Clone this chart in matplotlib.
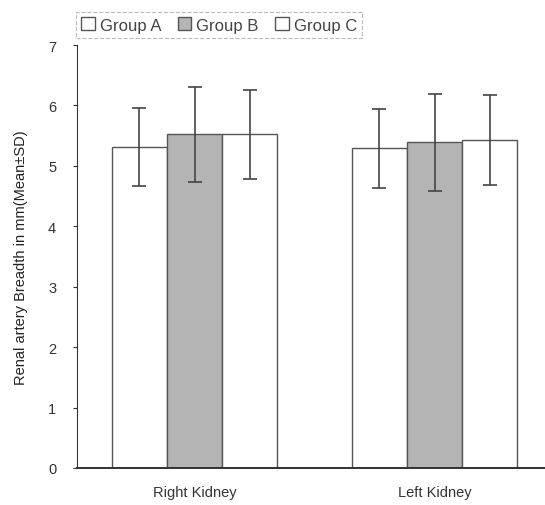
import matplotlib
matplotlib.use("Agg")
import matplotlib.pyplot as plt
import numpy as np

plt.rcParams["font.family"] = ["Liberation Sans", "DejaVu Sans"]

categories = ["Right Kidney", "Left Kidney"]
groups = ["Group A", "Group B", "Group C"]
means = {
    "Group A": [5.31, 5.29],
    "Group B": [5.52, 5.39],
    "Group C": [5.52, 5.43],
}
sds = {
    "Group A": [0.65, 0.65],
    "Group B": [0.79, 0.80],
    "Group C": [0.73, 0.74],
}
colors = {"Group A": "#ffffff", "Group B": "#b4b4b4", "Group C": "#ffffff"}

fig = plt.figure(figsize=(5.45, 5.06), dpi=100)
ax = fig.add_axes([77 / 545, 1 - 469 / 506, 1 - 77 / 545, (469 - 46) / 506])

x = np.arange(len(categories))
width = 0.23
for i, g in enumerate(groups):
    pos = x + (i - 1) * width
    ax.bar(pos, means[g], width, color=colors[g], edgecolor="#555555",
           linewidth=1.0, label=g, zorder=2)
    ax.errorbar(pos, means[g], yerr=sds[g], fmt="none", ecolor="#444444",
                elinewidth=1.2, capsize=5, capthick=1.2, zorder=3)

ax.set_xlim(-0.49, 1.46)
ax.set_ylim(0, 7)
ax.set_yticks(range(0, 8))
ax.set_xticks(x)
ax.set_xticklabels(categories, fontsize=10.5)
ax.tick_params(axis="x", length=0, pad=12, colors="#333333")
ax.tick_params(axis="y", length=3, pad=12, labelsize=10.5, colors="#333333")
ax.spines["top"].set_visible(False)
ax.spines["right"].set_visible(False)
ax.spines["left"].set_color("#333333")
ax.spines["bottom"].set_color("#333333")
ax.spines["bottom"].set_linewidth(1.4)
ax.set_ylabel("Renal artery Breadth in mm(Mean±SD)", fontsize=10.5, color="#222222", labelpad=14)

leg = fig.legend(loc="upper left", bbox_to_anchor=(68 / 545, 1 - 5 / 506), ncol=3,
                 fontsize=12, frameon=True, fancybox=False, handlelength=0.8,
                 handleheight=0.8, handletextpad=0.3, columnspacing=1.0,
                 borderpad=0.3, labelcolor="#444444")
leg.get_frame().set_edgecolor("#aaaaaa")
leg.get_frame().set_linestyle("--")
leg.get_frame().set_linewidth(0.8)

fig.savefig("out.png", dpi=100)
